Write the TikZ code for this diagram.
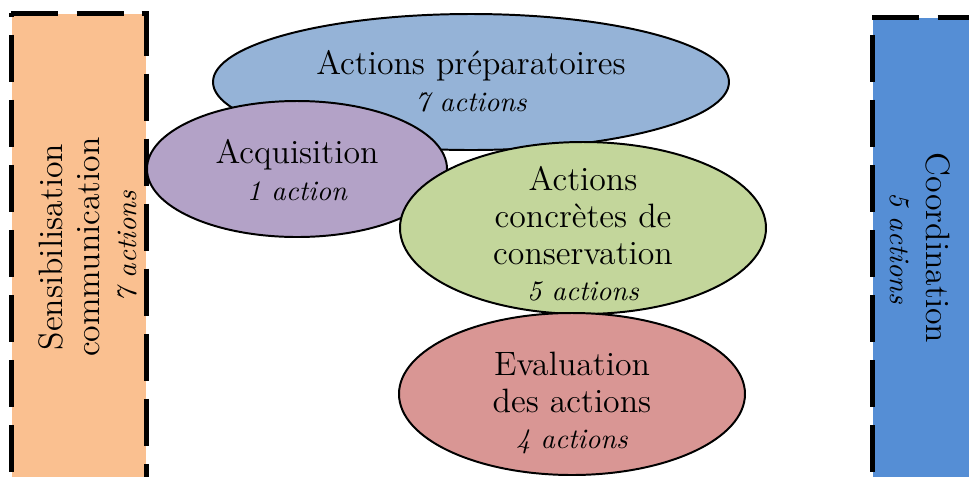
\documentclass[tikz,border=0pt]{standalone}
\usepackage{fontspec}
\usepackage{tikz}
\usetikzlibrary{shapes.geometric}
\definecolor{orangeclair}{HTML}{FAC090}
\definecolor{bleufonce}{HTML}{558ED5}
\definecolor{bleuclair}{HTML}{95B3D7}
\definecolor{coulacq}{HTML}{B3A2C7}
\definecolor{vertclair}{HTML}{C3D69B}
\definecolor{rougeclair}{HTML}{D99694}
\newcommand{\nbact}[1]{{\fontsize{10}{13}\selectfont\itshape #1}}

\begin{document}
\begin{tikzpicture}[x=0.355pt, y=-0.355pt,
  oval/.style 2 args={ellipse, draw, line width=0.7pt, inner sep=0pt,
    minimum width=#1*0.355pt, minimum height=#2*0.355pt},
  bande/.style 2 args={rectangle, inner sep=0pt,
    minimum width=#1*0.355pt, minimum height=#2*0.355pt},
  tirets/.style={line width=1.8pt, dash pattern=on 16.7pt off 6.4pt},
  txt/.style={align=center, font=\fontsize{12}{13}\selectfont}]
\useasboundingbox (0,0) rectangle (969,476);
\clip (0,0) rectangle (969,476);
% bandes laterales
\node at (79,260) [bande={134}{492}, fill=orangeclair](sensib){};
\node at (936.5,262) [bande={127}{488}, fill=bleufonce](coord){};
\draw[tirets] (sensib.north west) -- (sensib.north east) -- (sensib.south east);
\draw[tirets, dash phase=15.6pt] (sensib.north west) -- (sensib.south west);
\draw[tirets] (coord.north west) -- (coord.north east);
\draw[tirets, dash phase=17pt] (coord.north west) -- (coord.south west);
% ellipses
\node at (471,82) [oval={516}{136}, fill=bleuclair](prep){};
\node at (297,169) [oval={300}{136}, fill=coulacq](acq){};
\node at (583,228) [oval={366}{172}, fill=vertclair](conserv){};
\node at (572,394) [oval={346}{162}, fill=rougeclair](eval){};
% textes
\node at (88,247) [txt, rotate=90](sensibtxt){Sensibilisation\\communication\\\nbact{7 actions}};
\node at (920,248) [txt, rotate=-90](coordtxt){Coordination\\\nbact{5 actions}};
\node at (471,81) [txt](preptxt){Actions préparatoires\\\nbact{7 actions}};
\node at (297,170) [txt](acqtxt){Acquisition\\\nbact{1 action}};
\node at (583,234) [txt](conservtxt){Actions\\concrètes de\\conservation\\\nbact{5 actions}};
\node at (572,403) [txt](evaltxt){Evaluation\\des actions\\\nbact{4 actions}};
\end{tikzpicture}
\end{document}
